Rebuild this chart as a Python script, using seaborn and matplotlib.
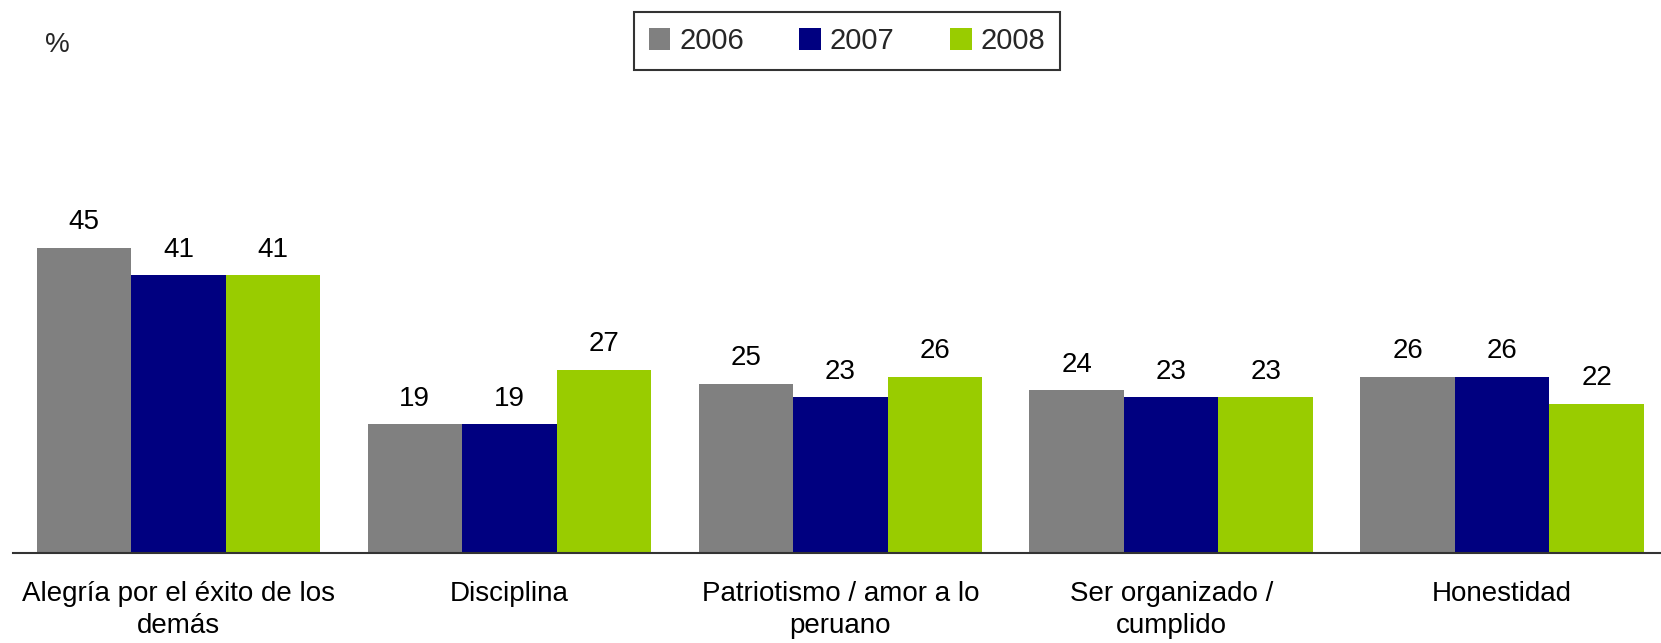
import pandas as pd
import matplotlib.pyplot as plt
import seaborn as sns

# Data
categories = ["Alegría por el éxito de los\ndemás", "Disciplina",
              "Patriotismo / amor a lo\nperuano", "Ser organizado /\ncumplido",
              "Honestidad"]
years = ["2006", "2007", "2008"]
v2006 = [45, 19, 25, 24, 26]
v2007 = [41, 19, 23, 23, 26]
v2008 = [41, 27, 26, 23, 22]
colors = ["#808080", "#000080", "#99CC00"]

rows = []
for year, vals in zip(years, [v2006, v2007, v2008]):
    for cat, v in zip(categories, vals):
        rows.append({"cat": cat, "year": year, "val": v})
df = pd.DataFrame(rows)

sns.set_theme(style="white")
plt.rcParams['font.family'] = ['Liberation Sans', 'DejaVu Sans']

W, H = 1661, 643
fig = plt.figure(figsize=(W / 100, H / 100), dpi=100)
# axes area in pixels: x 13..1661, y 214..553
ax = fig.add_axes([13 / W, (H - 553) / H, (W - 13) / W, (553 - 214) / H])

sns.barplot(data=df, x="cat", y="val", hue="year", palette=colors,
            width=0.857, saturation=1, gap=0, linewidth=0, ax=ax, legend=True)

for cont in ax.containers:
    ax.bar_label(cont, fmt="%d", padding=9, fontsize=20, color="black")

ax.set_ylim(0, 50)
ax.set_xlim(-0.5, 4.48)
ax.set_xlabel("")
ax.set_ylabel("")
ax.set_yticks([])
ax.tick_params(axis="x", length=0, pad=20, labelsize=20, colors="black")
for lbl in ax.get_xticklabels():
    lbl.set_linespacing(1.3)
for s in ["top", "right", "left"]:
    ax.spines[s].set_visible(False)
ax.spines["bottom"].set_color("#333333")
ax.spines["bottom"].set_linewidth(1.5)

handles, labels = ax.get_legend_handles_labels()
ax.get_legend().remove()
leg = fig.legend(handles, labels, ncol=3, loc="center",
                 bbox_to_anchor=(847 / W, 1 - 41 / H), fontsize=21,
                 frameon=True, fancybox=False, edgecolor="black",
                 handlelength=0.75, handleheight=0.75, handletextpad=0.3,
                 columnspacing=1.9, borderpad=0.5, borderaxespad=0)
leg.get_frame().set_linewidth(1.5)

fig.text(45 / W, 1 - 45 / H, "%", fontsize=20, va="center", ha="left")

fig.savefig("out.png", dpi=100)
